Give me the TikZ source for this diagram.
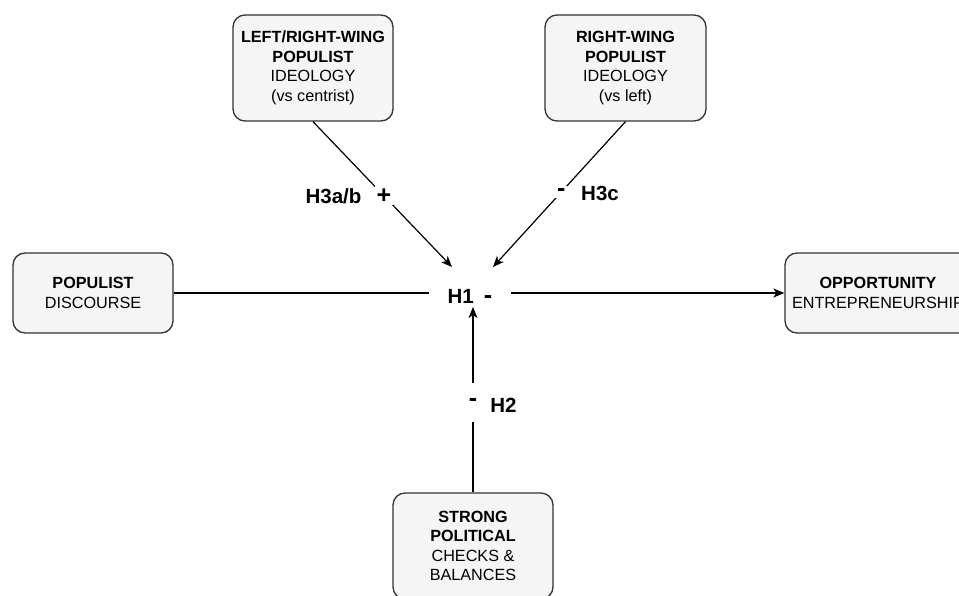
\documentclass[tikz,border=0pt]{standalone}
\usepackage{fontspec}
\setmainfont{Liberation Sans}
\usetikzlibrary{arrows.meta}
\definecolor{boxfill}{HTML}{F5F5F5}
\definecolor{boxline}{HTML}{333333}
\tikzset{
  box/.style={draw=boxline, fill=boxfill, line width=1.3pt, rounded corners=12pt,
    align=center, inner sep=0pt, font=\fontsize{16.2}{19.5}\selectfont},
  conn/.style={line width=1.2pt, draw=black},
  arr/.style={conn, -{Stealth[length=11pt,width=9pt,inset=3pt]}},
  lbl/.style={fill=white, inner sep=2pt, font=\fontsize{20.5}{24}\selectfont\bfseries},
  sign/.style={fill=white, inner sep=2pt, font=\fontsize{25}{28}\selectfont\bfseries},
  lbltext/.style={inner sep=0pt, font=\fontsize{20.5}{24}\selectfont\bfseries}
}
\begin{document}
\begin{tikzpicture}[x=1pt,y=-1pt]
\useasboundingbox (0,0) rectangle (959,596);
\clip (0,0) rectangle (959,596);
\fill[white] (0,0) rectangle (959,596);

% boxes
\node[box, minimum width=160pt, minimum height=106pt] (lr) at (313,68)
  {\textbf{LEFT/RIGHT-WING}\\\textbf{POPULIST}\\IDEOLOGY\\(vs centrist)};
\node[box, minimum width=161pt, minimum height=106pt] (rw) at (625.5,68)
  {\textbf{RIGHT-WING}\\\textbf{POPULIST}\\IDEOLOGY\\(vs left)};
\node[box, minimum width=160pt, minimum height=80pt] (pd) at (93,293)
  {\textbf{POPULIST}\\DISCOURSE};
\node[box, minimum width=186pt, minimum height=80pt] (oe) at (878,293)
  {\textbf{OPPORTUNITY}\\ENTREPRENEURSHIP};
\node[box, minimum width=160pt, minimum height=106pt] (sp) at (473,546)
  {\textbf{STRONG}\\\textbf{POLITICAL}\\CHECKS \&\\BALANCES};

% arrow end points
\coordinate (a1) at (452,267);
\coordinate (a2) at (493,267);
\coordinate (a3) at (473,307);

% connectors
\draw[arr] (pd.east) -- node[lbl, pos=0.485, yshift=-3pt, inner xsep=19pt] (h1) {H1\hspace{10pt}\fontsize{25}{28}\selectfont -} (oe.west);
\draw[arr] (lr.south) -- node[sign, pos=0.51] (plus) {+} (a1);
\draw[arr] (rw.south) -- node[sign, pos=0.485] (minus3) {-} (a2);
\draw[arr] (sp.north) -- node[sign, pos=0.484, minimum height=39pt, inner xsep=3pt] (minus2) {-} (a3);

% off-line label texts
\node[lbltext] (h3ab) at (333.5,196) {H3a/b};
\node[lbltext] (h3c) at (600,193) {H3c};
\node[lbltext] (h2) at (503.5,405) {H2};
\end{tikzpicture}
\end{document}
